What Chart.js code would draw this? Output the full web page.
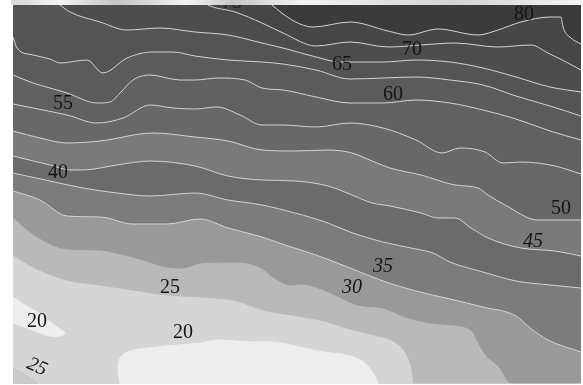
<!DOCTYPE html>
<html>
<head>
<meta charset="utf-8">
<style>
  html, body { margin: 0; padding: 0; background: #ffffff; }
  #wrap { width: 583px; height: 385px; }
</style>
<script src="https://cdn.jsdelivr.net/npm/chart.js@4.4.1/dist/chart.umd.min.js"></script>
</head>
<body>
<div id="wrap"><canvas id="contour" width="583" height="385"></canvas></div>
<script>
// contour lines, [x, y] in grid units (y counted from the top)
const line80 = [[13,2],[268,2],[272,5],[283,14],[300,24],[313,27],[350,22],[388,31],[408,35],[438,29],[478,35],[498,30],[521,22],[550,17],[561,17],[563,27],[571,38],[581,44]];
const line70 = [[13,2],[204,2],[208,5],[235,12],[262,23],[283,33],[316,46],[350,42],[388,47],[421,45],[455,43],[498,47],[531,45],[548,53],[568,63],[581,70]];
const line65 = [[13,2],[56,2],[60,5],[70,12],[100,22],[127,30],[160,28],[195,32],[228,35],[262,43],[283,48],[316,57],[340,62],[383,62],[416,60],[450,62],[483,68],[516,77],[550,87],[581,92]];
const line60 = [[13,37],[17,48],[33,55],[50,59],[60,63],[87,60],[103,73],[127,58],[153,52],[173,52],[195,56],[228,60],[262,62],[283,64],[316,70],[350,79],[383,78],[416,77],[450,80],[483,85],[516,96],[550,106],[581,116]];
const line55 = [[13,75],[33,83],[50,88],[67,93],[97,103],[110,102],[120,93],[133,80],[150,75],[180,80],[195,80],[218,78],[245,80],[262,88],[283,90],[316,97],[350,103],[383,103],[416,100],[450,103],[483,110],[516,119],[550,131],[581,140]];
const line50 = [[13,104],[33,108],[67,115],[97,123],[123,118],[150,105],[173,108],[195,109],[217,107],[240,115],[262,125],[283,125],[316,127],[350,123],[383,128],[416,140],[442,153],[460,148],[485,152],[503,163],[521,162],[555,166],[581,174]];
const line45 = [[13,131],[40,138],[67,143],[100,141],[153,133],[195,137],[228,141],[262,150],[295,151],[328,150],[352,153],[372,161],[390,168],[421,175],[455,185],[478,188],[488,195],[505,205],[538,220],[581,220]];
const line40 = [[13,156],[50,165],[70,170],[83,170],[117,165],[150,161],[195,166],[228,176],[262,180],[295,181],[328,186],[352,195],[372,203],[390,206],[421,213],[438,218],[455,218],[471,228],[488,238],[521,248],[555,251],[581,256]];
const line35 = [[13,173],[50,181],[83,188],[117,193],[150,196],[195,193],[228,200],[262,205],[295,213],[328,223],[350,232],[383,242],[416,249],[433,253],[450,262],[483,272],[516,281],[550,285],[581,288]];
const line30 = [[13,191],[40,200],[67,216],[100,217],[133,224],[167,224],[200,219],[228,228],[262,237],[285,245],[316,255],[350,268],[383,281],[416,291],[450,299],[483,307],[516,316],[530,328],[548,340],[581,352]];
const line25 = [[13,218],[33,235],[67,250],[100,251],[120,255],[140,260],[167,268],[183,269],[200,264],[233,263],[260,268],[273,278],[291,286],[300,285],[324,291],[358,306],[383,309],[408,319],[440,325],[470,330],[476,340],[484,354],[498,367],[511,384],[581,384]];
const line20 = [[13,256],[33,268],[67,281],[100,286],[133,291],[167,296],[200,298],[233,301],[267,312],[292,316],[324,322],[350,330],[374,336],[395,343],[406,355],[411,370],[413,384],[581,384]];

// closed areas
const lowLeft = [[13,297],[23,304],[37,312],[50,322],[60,329],[65,333],[61,336],[50,336],[35,331],[22,326],[13,322],[13,297]];
const lowBottom = [[120,384],[118,368],[120,358],[128,352],[140,349],[167,346],[200,343],[217,340],[250,342],[273,342],[291,345],[318,351],[350,356],[365,363],[374,375],[377,384],[120,384]];
const cornerLeft = [[13,368],[25,375],[37,384],[13,384],[13,368]];

// contour labels
const labelText = ['75', '80', '70', '65', '60', '55', '50', '45', '40', '35', '30', '25', '20', '20', '25'];
const labelX    = [232, 524, 412, 342, 393, 63, 561, 533, 58, 383, 352, 170, 37, 183, 37];
const labelY    = [3, 15, 50, 65, 95, 104, 209, 242, 173, 267, 288, 288, 322, 333, 367];
const labelItalic = [false, false, false, false, false, false, false, true, false, true, true, false, false, false, true];
const labelAngle  = [0, 0, 0, 0, 0, 0, 0, 0, 0, 0, 0, 0, 0, 0, 24];

const lineColor = '#d4d4d4';

// lines from top to bottom, with the shade of the band under each one
const bands = [
    { pts: line80, fill: '#464646', stroke: lineColor },
    { pts: line70, fill: '#4d4d4d', stroke: lineColor },
    { pts: line65, fill: '#545454', stroke: lineColor },
    { pts: line60, fill: '#5b5b5b', stroke: lineColor },
    { pts: line55, fill: '#616161', stroke: lineColor },
    { pts: line50, fill: '#686868', stroke: lineColor },
    { pts: line45, fill: '#7a7a7a', stroke: lineColor },
    { pts: line40, fill: '#6b6b6b', stroke: lineColor },
    { pts: line35, fill: '#7c7c7c', stroke: lineColor },
    { pts: line30, fill: '#999999', stroke: lineColor },
    { pts: line25, fill: '#b9b9b9', stroke: '#b9b9b9' },
    { pts: line20, fill: '#d5d5d5', stroke: '#d5d5d5' }
];

const shapes = [
    { pts: cornerLeft, fill: '#cbcbcb', stroke: '#c4c4c4' },
    { pts: lowLeft, fill: '#eeeeee', stroke: '#eeeeee' },
    { pts: lowBottom, fill: '#eeeeee', stroke: '#eeeeee' }
];

function toXY(pts) {
    return pts.map(p => ({ x: p[0], y: p[1] }));
}

const total = bands.length + shapes.length;
const datasets = [];

bands.forEach((b, i) => {
    datasets.push({
        data: toXY(b.pts),
        borderColor: b.stroke,
        borderWidth: 1,
        backgroundColor: b.fill,
        fill: 'start',
        pointRadius: 0,
        cubicInterpolationMode: 'monotone',
        clip: 0,
        order: total - i
    });
});

shapes.forEach((s, i) => {
    datasets.push({
        data: toXY(s.pts),
        borderColor: s.stroke,
        borderWidth: 1,
        backgroundColor: s.fill,
        fill: 'shape',
        pointRadius: 0,
        tension: 0.3,
        clip: 0,
        order: shapes.length - i
    });
});

// background of the darkest band and the blurred strip above the plot
const backdrop = {
    id: 'backdrop',
    beforeDatasetsDraw(chart) {
        const { ctx, chartArea: a } = chart;
        ctx.save();
        const g = ctx.createLinearGradient(0, 0, chart.width, 0);
        g.addColorStop(0, '#cfcfcf');
        g.addColorStop(0.1, '#f4f4f4');
        g.addColorStop(0.2, '#c4c4c4');
        g.addColorStop(0.32, '#f2f2f2');
        g.addColorStop(0.4, '#c8c8c8');
        g.addColorStop(0.52, '#f3f3f3');
        g.addColorStop(0.78, '#d2d2d2');
        g.addColorStop(1, '#f5f5f5');
        ctx.fillStyle = g;
        ctx.fillRect(a.left - 2, 0, a.right - a.left + 4, a.top);
        ctx.fillStyle = '#3b3b3b';
        ctx.fillRect(a.left, a.top, a.right - a.left, a.bottom - a.top);
        ctx.restore();
    }
};

const contourLabels = {
    id: 'contourLabels',
    afterDatasetsDraw(chart) {
        const { ctx, chartArea: a } = chart;
        const xs = chart.scales.x;
        const ys = chart.scales.y;
        ctx.save();
        ctx.beginPath();
        ctx.rect(a.left, a.top, a.right - a.left, a.bottom - a.top);
        ctx.clip();
        ctx.fillStyle = '#141414';
        ctx.textAlign = 'center';
        ctx.textBaseline = 'middle';
        labelText.forEach((t, i) => {
            ctx.save();
            ctx.translate(xs.getPixelForValue(labelX[i]), ys.getPixelForValue(labelY[i]));
            ctx.rotate(labelAngle[i] * Math.PI / 180);
            ctx.font = (labelItalic[i] ? 'italic ' : '') + '20px "Liberation Serif", "DejaVu Serif", serif';
            ctx.fillText(t, 0, 0);
            ctx.restore();
        });
        ctx.restore();
    }
};

new Chart(document.getElementById('contour'), {
    type: 'line',
    data: { datasets: datasets },
    options: {
        responsive: false,
        animation: false,
        layout: { padding: { left: 13, right: 2, top: 5, bottom: 1 } },
        scales: {
            x: { type: 'linear', min: 13, max: 581, display: false },
            y: { type: 'linear', min: 5, max: 384, reverse: true, display: false }
        },
        plugins: {
            legend: { display: false },
            tooltip: { enabled: false }
        }
    },
    plugins: [backdrop, contourLabels]
});
</script>
</body>
</html>
